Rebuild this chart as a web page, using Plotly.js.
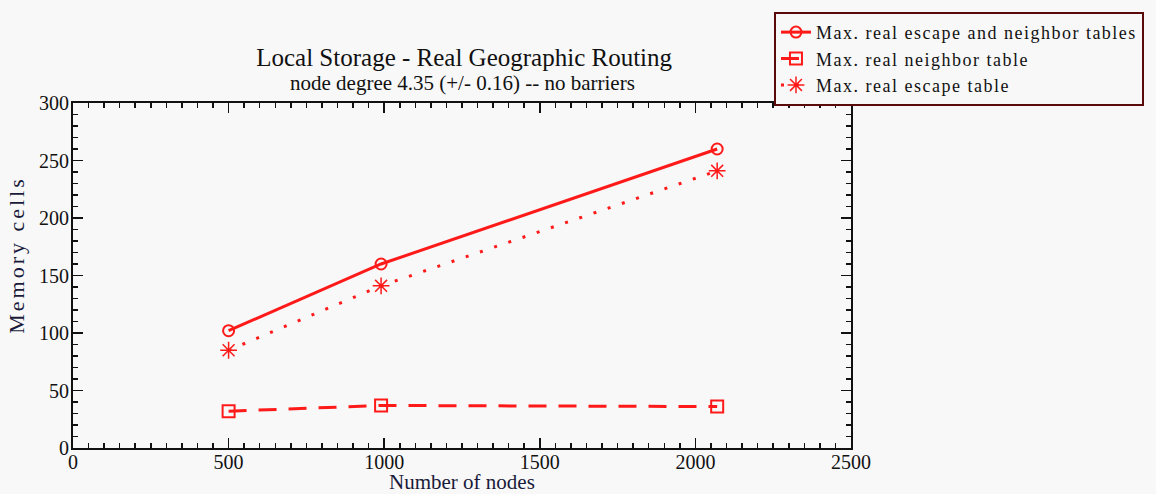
<!DOCTYPE html>
<html><head><meta charset="utf-8">
<script src="https://cdn.plot.ly/plotly-3.0.1.min.js"></script>
<style>html,body{margin:0;padding:0;background:#f8f8f8;}#chart{width:1156px;height:494px;}</style>
</head><body><div id="chart"></div>
<script>
const nodes = [500, 990, 2070];
const bothTables = [102, 160, 260];
const neighborTable = [32, 37, 36];
const escapeTable = [85, 141, 241];
const seriesNames = ["Max. real escape and neighbor tables", "Max. real neighbor table", "Max. real escape table"];
const mainTitle = "Local Storage - Real Geographic Routing";
const subTitle = "node degree 4.35 (+/- 0.16) -- no barriers";
const xTitle = "Number of nodes";
const yTitle = "Memory cells";

const red = "#ff1a1a";
const font = "Liberation Serif, Times New Roman, serif";
const spaced = (s, px) => "<span style='letter-spacing:" + px + "px'>" + s + "</span>";
const traces = [
  {x: nodes, y: bothTables, name: spaced(seriesNames[0], 1.5), mode: "lines+markers",
   line: {color: red, width: 3}, marker: {symbol: "circle-open", size: 11, color: red, line: {width: 2}}},
  {x: nodes, y: neighborTable, name: spaced(seriesNames[1], 1.5), mode: "lines+markers",
   line: {color: red, width: 3, dash: "18px,12px"}, marker: {symbol: "square-open", size: 12, color: red, line: {width: 2}}},
  {x: nodes, y: escapeTable, name: spaced(seriesNames[2], 1.5), mode: "lines+markers",
   line: {color: red, width: 3, dash: "3px,12px"}, marker: {symbol: "asterisk-open", size: 14, color: red, line: {width: 1.5, color: red}}}
];
const axisCommon = {
  showgrid: false, zeroline: false, showline: true, linecolor: "#111", linewidth: 2,
  ticks: "inside", ticklen: 10, tickwidth: 1.5, tickcolor: "#111", mirror: "allticks",
  automargin: false,
  tickfont: {family: font, size: 20, color: "#111"}
};
const layout = {
  width: 1156, height: 494,
  paper_bgcolor: "#f8f8f8", plot_bgcolor: "#f8f8f8",
  margin: {l: 73, r: 303, t: 100, b: 46},
  showlegend: true,
  title: {text: mainTitle, font: {family: font, size: 25, color: "#111"},
          x: 0.4015, xanchor: "center", y: 1 - 57 / 494, yanchor: "middle"},
  xaxis: Object.assign({}, axisCommon, {range: [0, 2500], dtick: 500, tick0: 0, ticklabelstandoff: -5,
    minor: {dtick: 50, ticklen: 5, tickwidth: 1.5, tickcolor: "#111", ticks: "inside"}}),
  yaxis: Object.assign({}, axisCommon, {range: [0, 300], dtick: 50, tick0: 0, ticklabelstandoff: -2,
    minor: {dtick: 10, ticklen: 5, tickwidth: 1.5, tickcolor: "#111", ticks: "inside"}}),
  annotations: [
    {text: subTitle, xref: "paper", yref: "paper", x: 0.5, y: (448 - 80) / 348,
     xanchor: "center", yanchor: "middle", showarrow: false,
     font: {family: font, size: 21, color: "#111"}},
    {text: xTitle, xref: "paper", yref: "paper", x: 0.5, y: (448 - 482) / 348,
     xanchor: "center", yanchor: "middle", showarrow: false,
     font: {family: font, size: 21, color: "#1a1a3a"}},
    {text: spaced(yTitle, 3), textangle: -90,
     xref: "paper", yref: "paper", x: -0.072, y: 0.56, xanchor: "center", yanchor: "middle",
     showarrow: false, font: {family: font, size: 22, color: "#1a1a3a"}}],
  legend: {x: 0.901, y: 1.264, xanchor: "left", yanchor: "top", bgcolor: "#f8f8f8",
    bordercolor: "#5a0a0a", borderwidth: 2, font: {family: font, size: 18, color: "#111"},
    tracegroupgap: 0, itemwidth: 30}
};
Plotly.newPlot("chart", traces, layout, {displayModeBar: false, staticPlot: true});
</script></body></html>
